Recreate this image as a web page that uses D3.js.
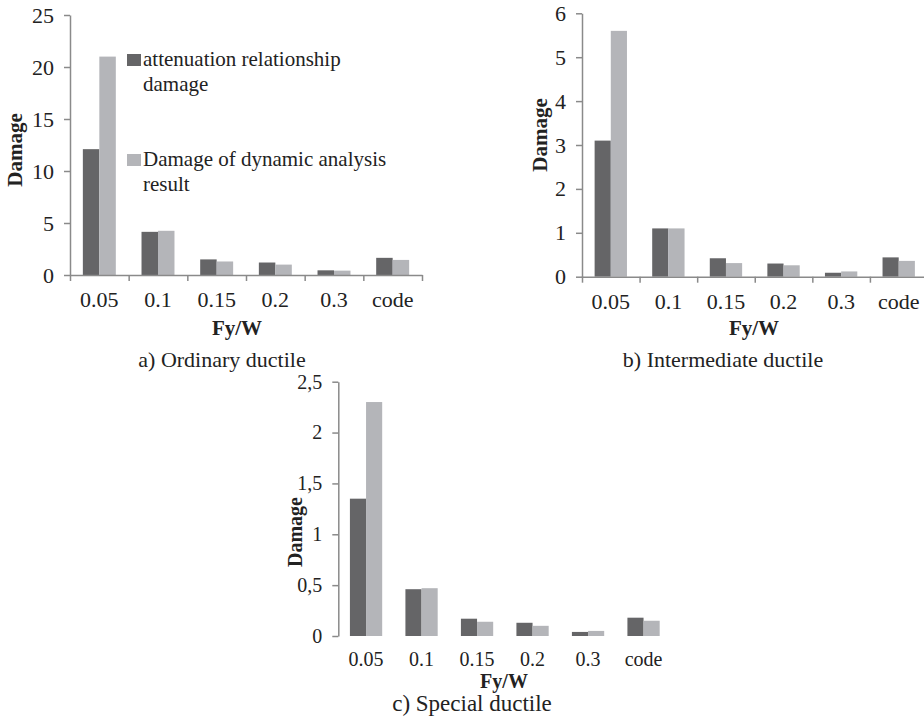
<!DOCTYPE html>
<html>
<head>
  <meta charset="utf-8" />
  <script src="https://d3js.org/d3.v7.min.js"></script>
  <style>
    body { margin: 0; background: #fff; }
    svg text { font-family: "Liberation Serif", "Times New Roman", serif; fill: #222; }
    .axis path, .axis line { stroke: #8a8a8a; stroke-width: 1.5; }
  </style>
</head>
<body>
  <svg id="chart" width="924" height="726"></svg>
  <script>
    // values
    const categories = ["0.05", "0.1", "0.15", "0.2", "0.3", "code"];
    const seriesNames = ["attenuation relationship damage", "Damage of dynamic analysis result"];
    const seriesColors = ["#656567", "#b4b5b9"];

    const ordinaryAtten = [12.1, 4.15, 1.5, 1.2, 0.45, 1.65];
    const ordinaryDynamic = [21, 4.25, 1.3, 1.0, 0.42, 1.45];
    const intermediateAtten = [3.1, 1.1, 0.42, 0.3, 0.09, 0.44];
    const intermediateDynamic = [5.6, 1.1, 0.31, 0.26, 0.12, 0.36];
    const specialAtten = [1.35, 0.46, 0.17, 0.13, 0.04, 0.18];
    const specialDynamic = [2.3, 0.47, 0.14, 0.1, 0.05, 0.15];

    const ordinaryTicks = [0, 5, 10, 15, 20, 25];
    const intermediateTicks = [0, 1, 2, 3, 4, 5, 6];
    const specialTicks = [0, 0.5, 1, 1.5, 2, 2.5];

    const svg = d3.select("#chart");

    function drawPanel(opt) {
      const g = svg.append("g");
      const x = d3.scaleBand().domain(categories).range([opt.x0, opt.x1]).padding(0);
      const xs = d3.scaleBand().domain([0, 1]).range([0, x.bandwidth()]).paddingInner(0).paddingOuter(opt.pad);
      const y = d3.scaleLinear().domain([0, opt.ticks[opt.ticks.length - 1]]).range([opt.y0, opt.y1]);

      // bars
      const rows = categories.map((c, i) => ({ cat: c, vals: [opt.a[i], opt.b[i]] }));
      const grp = g.selectAll("g.grp").data(rows).join("g")
        .attr("transform", d => "translate(" + x(d.cat) + ",0)");
      grp.selectAll("rect").data(d => d.vals).join("rect")
        .attr("x", (d, i) => xs(i))
        .attr("width", xs.bandwidth())
        .attr("y", d => y(d))
        .attr("height", d => y(0) - y(d))
        .attr("fill", (d, i) => seriesColors[i]);

      // y axis
      const yAxis = g.append("g").attr("class", "axis")
        .attr("transform", "translate(" + opt.x0 + ",0)")
        .call(d3.axisLeft(y).tickValues(opt.ticks).tickSize(6).tickSizeOuter(0).tickPadding(opt.yPad)
          .tickFormat(d => String(d).replace(".", opt.dec)));
      yAxis.selectAll("text").style("font-size", opt.yFont + "px").attr("fill", "#222");

      // x axis with ticks at the category boundaries
      if (opt.xLine) {
        const edge = d3.scaleLinear().domain([0, categories.length]).range([opt.x0, opt.x1]);
        g.append("g").attr("class", "axis")
          .attr("transform", "translate(0," + opt.y0 + ")")
          .call(d3.axisBottom(edge).ticks(categories.length).tickSize(6).tickSizeOuter(0).tickFormat(""));
      }
      const xLab = g.append("g")
        .attr("transform", "translate(0," + opt.y0 + ")")
        .call(d3.axisBottom(x).tickSize(0));
      xLab.select(".domain").remove();
      xLab.selectAll("text").attr("y", opt.xLabDy).attr("dy", 0)
        .style("font-size", opt.xFont + "px").attr("fill", "#222");

      // axis titles
      g.append("text")
        .attr("transform", "translate(" + opt.yTitleX + "," + opt.yTitleY + ") rotate(-90)")
        .attr("text-anchor", "middle").attr("dy", "0.35em")
        .style("font-size", opt.titleFont + "px").style("font-weight", "bold")
        .text("Damage");
      g.append("text")
        .attr("x", opt.xTitleX).attr("y", opt.xTitleY)
        .attr("text-anchor", "middle")
        .style("font-size", opt.titleFont + "px").style("font-weight", "bold")
        .text("Fy/W");
      g.append("text")
        .attr("x", opt.capX).attr("y", opt.capY)
        .attr("text-anchor", "middle")
        .style("font-size", opt.capFont + "px")
        .text(opt.caption);
      return g;
    }

    const ga = drawPanel({
      a: ordinaryAtten, b: ordinaryDynamic, ticks: ordinaryTicks, dec: ".",
      x0: 70, x1: 422, y0: 275, y1: 15, pad: 0.78, xLine: true,
      yPad: 10, yFont: 22, xFont: 22, xLabDy: 32, titleFont: 21,
      yTitleX: 15, yTitleY: 150, xTitleX: 237, xTitleY: 335,
      capX: 222, capY: 367, capFont: 22, caption: "a) Ordinary ductile"
    });

    drawPanel({
      a: intermediateAtten, b: intermediateDynamic, ticks: intermediateTicks, dec: ".",
      x0: 582, x1: 927.5, y0: 276.7, y1: 13.3, pad: 0.78, xLine: true,
      yPad: 10, yFont: 22, xFont: 22, xLabDy: 32, titleFont: 21,
      yTitleX: 540, yTitleY: 135, xTitleX: 754, xTitleY: 335,
      capX: 723, capY: 367, capFont: 22, caption: "b) Intermediate ductile"
    });

    drawPanel({
      a: specialAtten, b: specialDynamic, ticks: specialTicks, dec: ",",
      x0: 338.3, x1: 671.3, y0: 636, y1: 381.7, pad: 0.72, xLine: false,
      yPad: 10, yFont: 20, xFont: 20, xLabDy: 30, titleFont: 20,
      yTitleX: 295, yTitleY: 532, xTitleX: 504, xTitleY: 688,
      capX: 472, capY: 711, capFont: 23, caption: "c) Special ductile"
    });

    // legend inside panel a
    const legendLines = [["attenuation relationship", "damage"], ["Damage of dynamic analysis", "result"]];
    const legendTop = [54, 154];
    const leg = ga.append("g");
    legendLines.forEach((lines, i) => {
      leg.append("rect")
        .attr("x", 127).attr("y", legendTop[i]).attr("width", 14).attr("height", 12)
        .attr("fill", seriesColors[i]);
      lines.forEach((t, j) => {
        leg.append("text")
          .attr("x", 143).attr("y", legendTop[i] + 12 + j * 25)
          .style("font-size", "21px")
          .text(t);
      });
    });
  </script>
</body>
</html>
